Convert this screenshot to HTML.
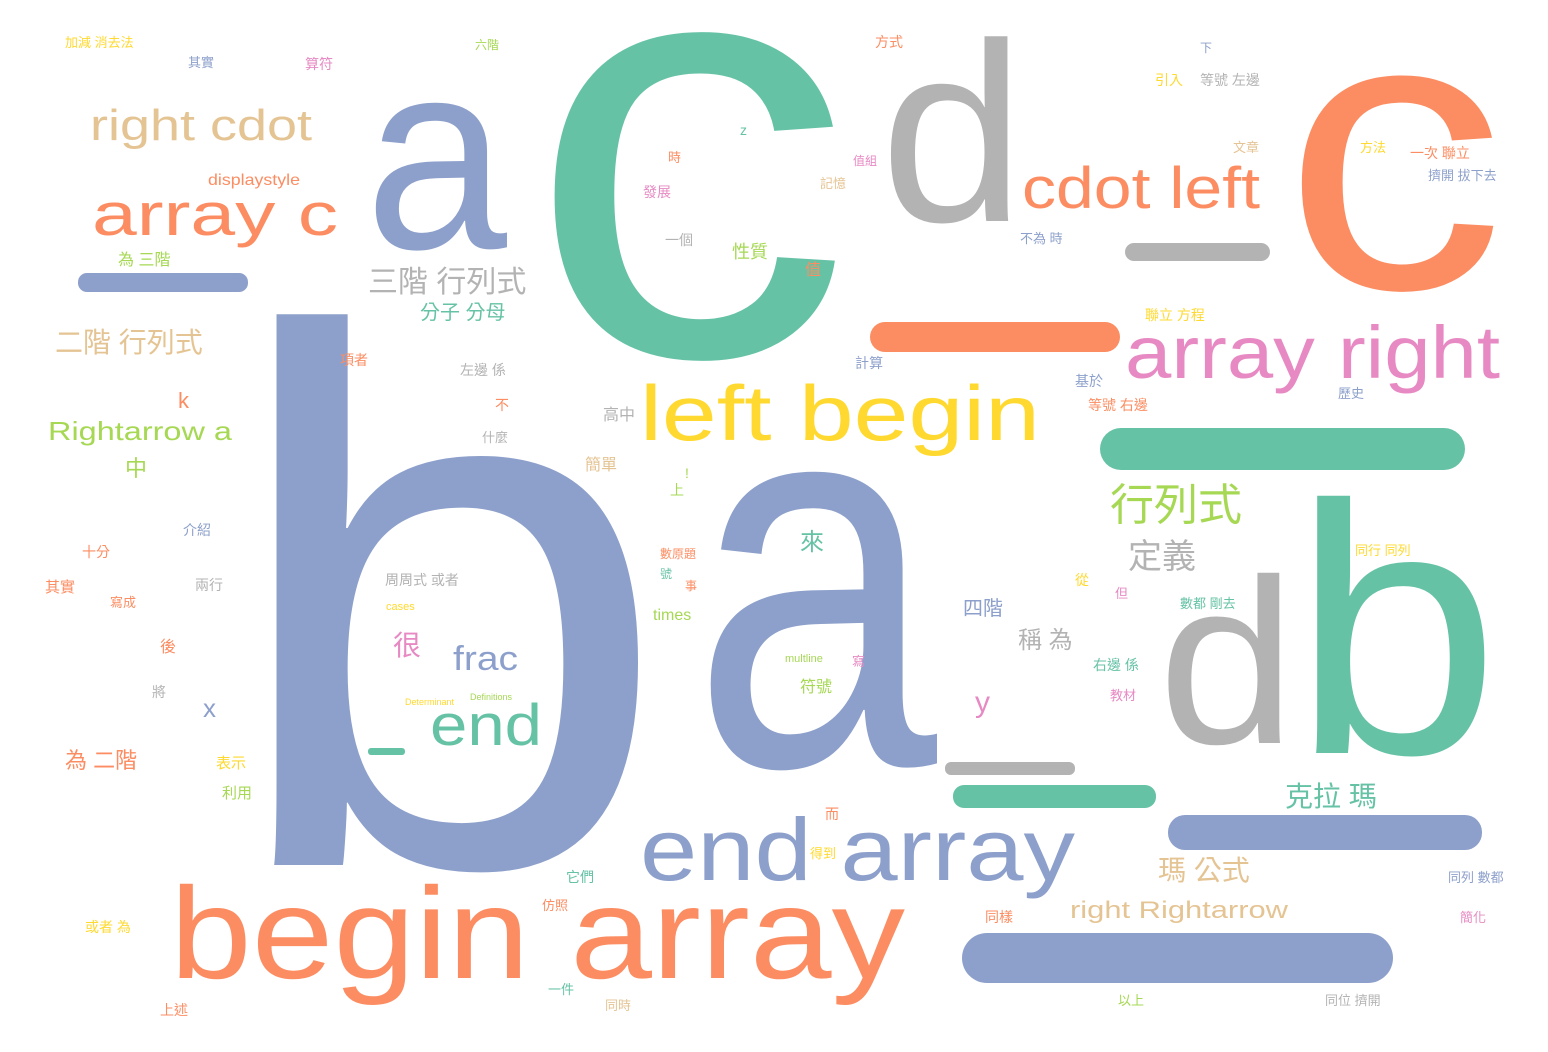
<!DOCTYPE html>
<html><head><meta charset="utf-8">
<style>
html,body{margin:0;padding:0;background:#fff;}
svg{display:block;}
text{font-family:"Liberation Sans","Noto Sans CJK TC",sans-serif;}
</style></head>
<body>
<svg width="1548" height="1052" viewBox="0 0 1548 1052" xmlns="http://www.w3.org/2000/svg">
<rect width="1548" height="1052" fill="#fff"/>
<!-- bars -->
<rect x="870" y="322" width="250" height="30" rx="15" fill="#fc8d62"/>
<rect x="1125" y="243" width="145" height="18" rx="9" fill="#b3b3b3"/>
<rect x="1100" y="428" width="365" height="42" rx="21" fill="#66c2a5"/>
<rect x="1168" y="815" width="314" height="35" rx="17" fill="#8da0cb"/>
<rect x="962" y="933" width="431" height="50" rx="25" fill="#8da0cb"/>
<rect x="945" y="762" width="130" height="13" rx="6" fill="#b3b3b3"/>
<rect x="953" y="785" width="203" height="23" rx="11" fill="#66c2a5"/>
<rect x="78" y="273" width="170" height="19" rx="9" fill="#8da0cb"/>
<rect x="368" y="748" width="37" height="7" rx="3" fill="#66c2a5"/>

<!-- huge letters -->
<text x="222" y="865" font-size="760" fill="#8da0cb" textLength="450" lengthAdjust="spacingAndGlyphs">b</text>
<text x="692" y="765" font-size="545" fill="#8da0cb" textLength="245" lengthAdjust="spacingAndGlyphs">a</text>
<text x="527" y="355" font-size="600" fill="#66c2a5" textLength="325" lengthAdjust="spacingAndGlyphs">c</text>
<text x="365" y="248" font-size="270" fill="#8da0cb" textLength="142" lengthAdjust="spacingAndGlyphs">a</text>
<text x="880" y="221" font-size="255" fill="#b3b3b3" textLength="145" lengthAdjust="spacingAndGlyphs">d</text>
<text x="1283" y="288" font-size="395" fill="#fc8d62" textLength="222" lengthAdjust="spacingAndGlyphs">c</text>
<text x="1158" y="743" font-size="235" fill="#b3b3b3" textLength="138" lengthAdjust="spacingAndGlyphs">d</text>
<text x="1292" y="753" font-size="355" fill="#66c2a5" textLength="208" lengthAdjust="spacingAndGlyphs">b</text>

<!-- big words -->
<text x="1022" y="208" font-size="58" fill="#fc8d62" textLength="238" lengthAdjust="spacingAndGlyphs">cdot left</text>
<text x="1125" y="378" font-size="74" fill="#e78ac3" textLength="375" lengthAdjust="spacingAndGlyphs">array right</text>
<text x="640" y="440" font-size="78" fill="#ffd92f" textLength="400" lengthAdjust="spacingAndGlyphs">left begin</text>
<text x="640" y="880" font-size="88" fill="#8da0cb" textLength="435" lengthAdjust="spacingAndGlyphs">end array</text>
<text x="170" y="978" font-size="130" fill="#fc8d62" textLength="735" lengthAdjust="spacingAndGlyphs">begin array</text>
<text x="430" y="745" font-size="58" fill="#66c2a5" textLength="112" lengthAdjust="spacingAndGlyphs">end</text>
<text x="90" y="140" font-size="44" fill="#e5c494" textLength="222" lengthAdjust="spacingAndGlyphs">right cdot</text>
<text x="92" y="235" font-size="60" fill="#fc8d62" textLength="246" lengthAdjust="spacingAndGlyphs">array c</text>
<text x="208" y="185" font-size="16" fill="#fc8d62" textLength="92" lengthAdjust="spacingAndGlyphs">displaystyle</text>
<text x="453" y="670" font-size="34" fill="#8da0cb" textLength="65" lengthAdjust="spacingAndGlyphs">frac</text>
<text x="48" y="440" font-size="26" fill="#a6d854" textLength="184" lengthAdjust="spacingAndGlyphs">Rightarrow a</text>
<text x="1070" y="918" font-size="24" fill="#e5c494" textLength="218" lengthAdjust="spacingAndGlyphs">right Rightarrow</text>
<text x="653" y="620" font-size="16" fill="#a6d854">times</text>

<!-- CJK -->
<text x="1110" y="520" font-size="44" fill="#a6d854">行列式</text>
<text x="1128" y="568" font-size="34" fill="#b3b3b3">定義</text>
<text x="1285" y="806" font-size="28" fill="#66c2a5">克拉 瑪</text>
<text x="1158" y="880" font-size="28" fill="#e5c494">瑪 公式</text>
<text x="368" y="292" font-size="30" fill="#b3b3b3">三階 行列式</text>
<text x="55" y="352" font-size="28" fill="#e5c494">二階 行列式</text>
<text x="420" y="319" font-size="20" fill="#66c2a5">分子 分母</text>
<text x="125" y="476" font-size="22" fill="#a6d854">中</text>
<text x="178" y="408" font-size="22" fill="#fc8d62">k</text>
<text x="203" y="717" font-size="26" fill="#8da0cb">x</text>
<text x="65" y="768" font-size="22" fill="#fc8d62">為 二階</text>
<text x="800" y="550" font-size="24" fill="#66c2a5">來</text>
<text x="963" y="615" font-size="20" fill="#8da0cb">四階</text>
<text x="1018" y="648" font-size="24" fill="#b3b3b3">稱 為</text>
<text x="975" y="712" font-size="30" fill="#e78ac3">y</text>
<text x="393" y="655" font-size="28" fill="#e78ac3">很</text>
<text x="603" y="420" font-size="16" fill="#b3b3b3">高中</text>
<text x="118" y="265" font-size="16" fill="#a6d854">為 三階</text>
<text x="732" y="258" font-size="18" fill="#a6d854">性質</text>
<text x="585" y="470" font-size="16" fill="#e5c494">簡單</text>
<text x="1088" y="410" font-size="14" fill="#fc8d62">等號 右邊</text>
<text x="1145" y="320" font-size="14" fill="#ffd92f">聯立 方程</text>
<text x="1200" y="85" font-size="14" fill="#b3b3b3">等號 左邊</text>
<text x="1155" y="85" font-size="14" fill="#ffd92f">引入</text>
<text x="1410" y="158" font-size="14" fill="#fc8d62">一次 聯立</text>
<text x="1428" y="180" font-size="13" fill="#8da0cb">擠開 拔下去</text>
<text x="1355" y="555" font-size="13" fill="#ffd92f">同行 同列</text>
<text x="1180" y="608" font-size="13" fill="#66c2a5">數都 剛去</text>
<text x="1093" y="670" font-size="14" fill="#66c2a5">右邊 係</text>
<text x="800" y="692" font-size="16" fill="#a6d854">符號</text>
<text x="216" y="768" font-size="15" fill="#ffd92f">表示</text>
<text x="222" y="798" font-size="15" fill="#a6d854">利用</text>
<text x="82" y="557" font-size="14" fill="#fc8d62">十分</text>
<text x="45" y="592" font-size="15" fill="#fc8d62">其實</text>
<text x="183" y="535" font-size="14" fill="#8da0cb">介紹</text>
<text x="160" y="652" font-size="16" fill="#fc8d62">後</text>
<text x="85" y="932" font-size="14" fill="#ffd92f">或者 為</text>
<text x="160" y="1015" font-size="14" fill="#fc8d62">上述</text>
<text x="566" y="882" font-size="14" fill="#66c2a5">它們</text>
<text x="985" y="922" font-size="14" fill="#fc8d62">同樣</text>
<text x="1448" y="882" font-size="13" fill="#8da0cb">同列 數都</text>
<text x="1460" y="922" font-size="13" fill="#e78ac3">簡化</text>
<text x="1118" y="1005" font-size="13" fill="#a6d854">以上</text>
<text x="1325" y="1005" font-size="13" fill="#b3b3b3">同位 擠開</text>
<text x="65" y="47" font-size="13" fill="#ffd92f">加減 消去法</text>
<text x="188" y="67" font-size="13" fill="#8da0cb">其實</text>
<text x="305" y="69" font-size="14" fill="#e78ac3">算符</text>
<text x="475" y="49" font-size="12" fill="#a6d854">六階</text>
<text x="875" y="47" font-size="14" fill="#fc8d62">方式</text>
<text x="1233" y="152" font-size="13" fill="#e5c494">文章</text>
<text x="1360" y="152" font-size="13" fill="#ffd92f">方法</text>
<text x="740" y="135" font-size="14" fill="#66c2a5">z</text>
<text x="643" y="197" font-size="14" fill="#e78ac3">發展</text>
<text x="665" y="245" font-size="14" fill="#b3b3b3">一個</text>
<text x="805" y="275" font-size="16" fill="#fc8d62">值</text>
<text x="1020" y="243" font-size="13" fill="#8da0cb">不為 時</text>
<text x="340" y="365" font-size="14" fill="#fc8d62">項者</text>
<text x="460" y="375" font-size="14" fill="#b3b3b3">左邊 係</text>
<text x="495" y="410" font-size="14" fill="#fc8d62">不</text>
<text x="482" y="442" font-size="13" fill="#b3b3b3">什麼</text>
<text x="385" y="585" font-size="14" fill="#b3b3b3">周周式 或者</text>
<text x="195" y="590" font-size="14" fill="#b3b3b3">兩行</text>
<text x="110" y="607" font-size="13" fill="#fc8d62">寫成</text>
<text x="152" y="697" font-size="14" fill="#b3b3b3">將</text>
<text x="670" y="495" font-size="14" fill="#a6d854">上</text>
<text x="825" y="819" font-size="14" fill="#fc8d62">而</text>
<text x="855" y="368" font-size="14" fill="#8da0cb">計算</text>
<text x="1075" y="386" font-size="14" fill="#8da0cb">基於</text>
<text x="1338" y="398" font-size="13" fill="#8da0cb">歷史</text>
<text x="1110" y="700" font-size="13" fill="#e78ac3">教材</text>
<text x="548" y="994" font-size="13" fill="#66c2a5">一件</text>
<text x="605" y="1010" font-size="13" fill="#e5c494">同時</text>
<text x="542" y="910" font-size="13" fill="#fc8d62">仿照</text>
<text x="810" y="858" font-size="13" fill="#ffd92f">得到</text>
<text x="1075" y="585" font-size="14" fill="#ffd92f">從</text>
<text x="1115" y="598" font-size="13" fill="#e78ac3">但</text>
<text x="785" y="662" font-size="11" fill="#a6d854">multline</text>
<text x="852" y="666" font-size="13" fill="#e78ac3">寫</text>
<text x="386" y="610" font-size="11" fill="#ffd92f">cases</text>
<text x="470" y="700" font-size="9" fill="#a6d854">Definitions</text>
<text x="405" y="705" font-size="9" fill="#ffd92f">Determinant</text>
<text x="820" y="188" font-size="13" fill="#e5c494">記憶</text>
<text x="853" y="165" font-size="12" fill="#e78ac3">值組</text>
<text x="668" y="162" font-size="13" fill="#fc8d62">時</text>
<text x="685" y="478" font-size="14" fill="#a6d854">!</text>
<text x="660" y="558" font-size="12" fill="#fc8d62">數原題</text>
<text x="660" y="578" font-size="12" fill="#66c2a5">號</text>
<text x="685" y="590" font-size="12" fill="#fc8d62">事</text>
<text x="1200" y="52" font-size="12" fill="#8da0cb">下</text>
</svg>
</body></html>
